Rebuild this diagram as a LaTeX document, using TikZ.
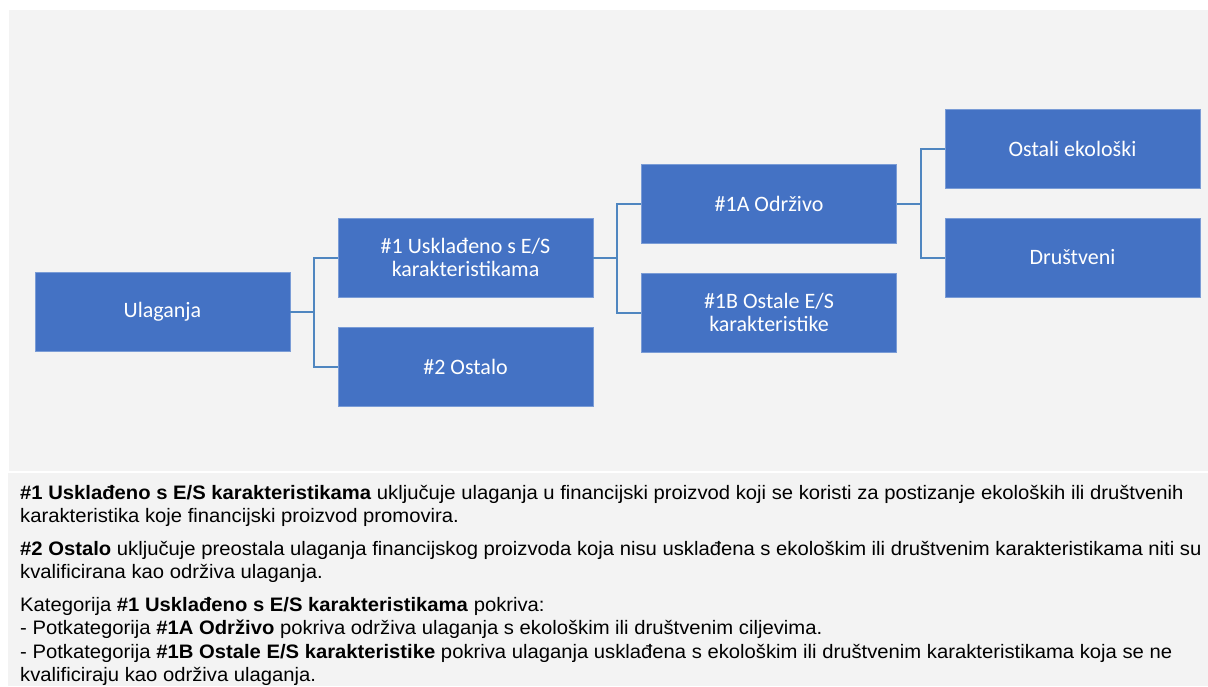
\documentclass[tikz,border=0pt]{standalone}
\usepackage{fontspec}
\setmainfont[FakeStretch=1.038]{Liberation Sans}
\newfontfamily\boxfont{Carlito}
\usetikzlibrary{positioning}

\definecolor{panelgrey}{HTML}{F3F3F3}
\definecolor{boxblue}{HTML}{4472C4}
\definecolor{boxedge}{HTML}{7A9CD6}
\definecolor{linkblue}{HTML}{4F86C0}

\tikzset{
  catbox/.style={fill=boxblue, draw=boxedge, line width=0.8pt, text=white,
    minimum width=255pt, minimum height=79pt, inner sep=0pt, align=center,
    font=\boxfont\fontsize{22}{23}\selectfont},
  link/.style={draw=linkblue, line width=2pt},
  noteline/.style={anchor=base west, inner sep=0pt, font=\fontsize{19.5}{23.5}\selectfont}
}

\begin{document}
\begin{tikzpicture}[x=1pt,y=-1pt]
    \useasboundingbox (0,0) rectangle (1208,686);
    \fill[white] (0,0) rectangle (1208,686);
    \fill[panelgrey] (9,10) rectangle (1208,471);
    \fill[panelgrey] (8,473) rectangle (1208,686);
    % boxes
    \node[catbox] (ulaganja) at (162.5,311.5) {Ulaganja};
    \node[catbox] (uskladeno) at (465.5,257.5) {\#1 Usklađeno s E/S\\karakteristikama};
    \node[catbox] (ostalo) at (465.5,366.5) {\#2 Ostalo};
    \node[catbox] (odrzivo) at (769,203.5) {\#1A Održivo};
    \node[catbox] (ostaleES) at (769,312.5) {\#1B Ostale E/S\\karakteristike};
    \node[catbox] (ekoloski) at (1072.5,148.5) {Ostali ekološki};
    \node[catbox] (drustveni) at (1072.5,257.5) {Društveni};
    % connectors
    \draw[link] (ulaganja.east) -- ++(24,0) |- (uskladeno.west);
    \draw[link] (ulaganja.east) -- ++(24,0) |- (ostalo.west);
    \draw[link] (uskladeno.east) -- ++(24,0) |- (odrzivo.west);
    \draw[link] (uskladeno.east) -- ++(24,0) |- (ostaleES.west);
    \draw[link] (odrzivo.east) -- ++(24,0) |- (ekoloski.west);
    \draw[link] (odrzivo.east) -- ++(24,0) |- (drustveni.west);
    % notes
    \node[noteline] (n1) at (20,499) {\textbf{\#1 Usklađeno s E/S karakteristikama} uključuje ulaganja u financijski proizvod koji se koristi za postizanje ekoloških ili društvenih};
    \node[noteline] (n2) at (20,522.5) {karakteristika koje financijski proizvod promovira.};
    \node[noteline] (n3) at (20,555) {\textbf{\#2 Ostalo} uključuje preostala ulaganja financijskog proizvoda koja nisu usklađena s ekološkim ili društvenim karakteristikama niti su};
    \node[noteline] (n4) at (20,578.5) {kvalificirana kao održiva ulaganja.};
    \node[noteline] (n5) at (20,611) {Kategorija \textbf{\#1 Usklađeno s E/S karakteristikama} pokriva:};
    \node[noteline] (n6) at (20,634.5) {- Potkategorija \textbf{\#1A Održivo} pokriva održiva ulaganja s ekološkim ili društvenim ciljevima.};
    \node[noteline] (n7) at (20,658) {- Potkategorija \textbf{\#1B Ostale E/S karakteristike} pokriva ulaganja usklađena s ekološkim ili društvenim karakteristikama koja se ne};
    \node[noteline] (n8) at (20,681.5) {kvalificiraju kao održiva ulaganja.};
  \end{tikzpicture}
\end{document}
